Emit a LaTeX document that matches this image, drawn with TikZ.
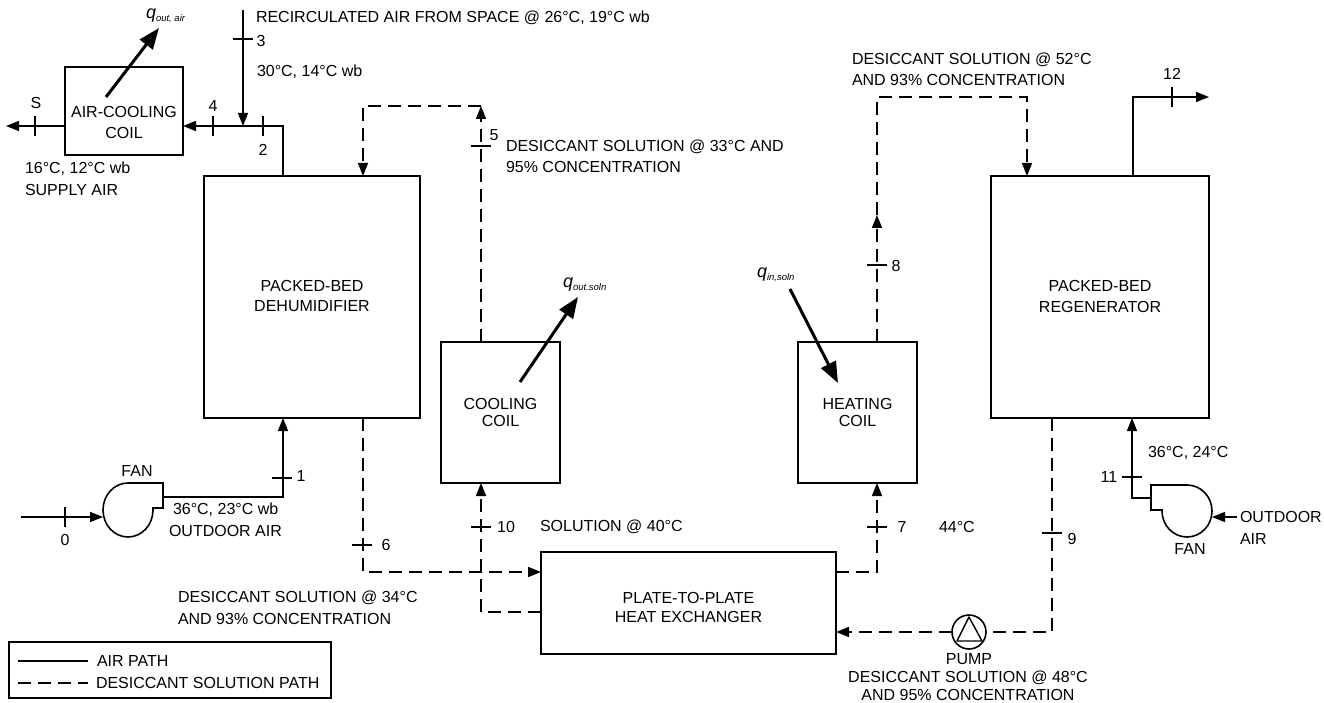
\documentclass[tikz,border=0pt]{standalone}
\usepackage{fontspec}
\setmainfont{Liberation Sans}
\usetikzlibrary{arrows.meta}
\newcommand{\qflow}[1]{{\itshape\fontsize{18}{18}\selectfont q\raisebox{-3pt}{\fontsize{9.5}{10}\selectfont #1}}}
\tikzset{
    unitbox/.style={draw, line width=1.6pt, inner sep=0pt, outer sep=0pt, align=center},
    lbl/.style={inner sep=0pt, outer sep=0pt, align=left, anchor=west},
    mid/.style={inner sep=0pt, outer sep=0pt, align=center},
    airline/.style={line width=1.6pt},
    solnline/.style={line width=1.6pt, dash pattern=on 13pt off 7pt},
    flow/.style={-{Triangle[length=13pt,width=10pt]}},
    heatflow/.style={line width=3pt, -{Triangle[length=21pt,width=16pt]}},
    ticks/.style={line width=1.4pt}
}
\begin{document}
\begin{tikzpicture}[x=1pt, y=-1pt, font=\fontsize{16}{21.5}\selectfont]
    \useasboundingbox (0,0) rectangle (1324,703);

    % equipment
    \node (aircoil) [unitbox, minimum width=118pt, minimum height=88pt] at (124,111) {};
    \node (dehum) [unitbox, minimum width=216pt, minimum height=242pt] at (312,297) {};
    \node (coolcoil) [unitbox, minimum width=119pt, minimum height=141pt] at (500.5,412.5) {};
    \node (heatcoil) [unitbox, minimum width=119pt, minimum height=141pt] at (857.5,412.5) {};
    \node (regen) [unitbox, minimum width=218pt, minimum height=242pt] at (1100,297) {};
    \node (hx) [unitbox, minimum width=295pt, minimum height=102pt] at (688.5,603) {};
    \node (pump) [draw, circle, line width=1.6pt, minimum size=34pt, inner sep=0pt, outer sep=0pt] at (969,632) {};

    % equipment names
    \node (coillbl) [mid] at (124,122.5) {AIR-COOLING\\COIL};
    \node (dehumlbl) [mid, font=\fontsize{16}{20}\selectfont] at (312,296) {PACKED-BED\\DEHUMIDIFIER};
    \node (coollbl) [mid, font=\fontsize{16}{17.5}\selectfont] at (500.5,412.5) {COOLING\\COIL};
    \node (heatlbl) [mid, font=\fontsize{16}{17.5}\selectfont] at (857.5,412.5) {HEATING\\COIL};
    \node (regenlbl) [mid, font=\fontsize{16}{20.5}\selectfont] at (1100,296.5) {PACKED-BED\\REGENERATOR};
    \node (hxlbl) [mid, font=\fontsize{16}{19}\selectfont] at (688.5,607.5) {PLATE-TO-PLATE\\HEAT EXCHANGER};

    % pump triangle
    \draw[line width=1.4pt, line join=round] (969,617) -- (982,641) -- (957,641) -- cycle;

    % fans
    \draw[line width=1.6pt] (128,483) arc (90:360:25pt and 27pt) -- (153,508) -- (163,508) -- (163,483) -- cycle;
    \draw[line width=1.6pt] (1187,485) arc (90:-180:25pt and 26pt) -- (1162,510) -- (1151,510) -- (1151,485) -- cycle;
    \coordinate (fanin) at (103,517);
    \coordinate (fanout) at (163,497);
    \coordinate (fanrin) at (1212,517);
    \coordinate (fanrout) at (1151,498);

    % air path
    \coordinate (start0) at (21,517);
    \coordinate (endS) at (6,126);
    \coordinate (top3) at (243,10);
    \coordinate (join3) at (243,126);
    \coordinate (corner2) at (283,126);
    \coordinate (corner1) at (283,497);
    \coordinate (corner11) at (1132,498);
    \coordinate (corner12) at (1133,97);
    \coordinate (end12) at (1209,97);
    \coordinate (startR) at (1237,517);
    \draw[airline, flow] (start0) -- (fanin);
    \draw[airline, flow] (fanout) -- (corner1) -- (dehum.south -| corner1);
    \draw[airline, flow] (dehum.north -| corner2) -- (corner2) -- (aircoil.east |- corner2);
    \draw[airline, flow] (top3) -- (join3);
    \draw[airline, flow] (aircoil.west |- endS) -- (endS);
    \draw[airline, flow] (regen.north -| corner12) -- (corner12) -- (end12);
    \draw[airline, flow] (startR) -- (fanrin);
    \draw[airline, flow] (fanrout) -- (corner11) -- (regen.south -| corner11);

    % solution path
    \coordinate (corner5) at (481,106);
    \coordinate (corner5b) at (363,106);
    \coordinate (corner6) at (363,572);
    \coordinate (corner10) at (481,612);
    \coordinate (corner7) at (877,572);
    \coordinate (mid8) at (877,215);
    \coordinate (corner8) at (877,97);
    \coordinate (corner8b) at (1027,97);
    \coordinate (corner9) at (1052,632);
    \draw[solnline, flow] (dehum.south -| corner6) -- (corner6) -- (hx.west |- corner6);
    \draw[solnline, flow] (hx.west |- corner10) -- (corner10) -- (coolcoil.south -| corner10);
    \draw[solnline, flow] (coolcoil.north -| corner5) -- (corner5);
    \draw[solnline, flow] (corner5) -- (corner5b) -- (dehum.north -| corner5b);
    \draw[solnline, flow] (hx.east |- corner7) -- (corner7) -- (heatcoil.south -| corner7);
    \draw[solnline, flow] (heatcoil.north -| mid8) -- (mid8);
    \draw[solnline, flow] (mid8) -- (corner8) -- (corner8b) -- (regen.north -| corner8b);
    \draw[solnline] (regen.south -| corner9) -- (corner9) -- (pump.east);
    \draw[solnline, flow] (pump.west) -- (hx.east |- pump.west);

    % heat arrows
    \coordinate (qairin) at (106,97);
    \coordinate (qairout) at (159,28);
    \coordinate (qcoolin) at (520,382);
    \coordinate (qcoolout) at (578,297);
    \coordinate (qheatin) at (790,289);
    \coordinate (qheatout) at (838,383);
    \draw[heatflow] (qairin) -- (qairout);
    \draw[heatflow] (qcoolin) -- (qcoolout);
    \draw[heatflow] (qheatin) -- (qheatout);

    % state point ticks
    \draw[ticks] (65,507) -- (65,527);
    \draw[ticks] (272,478) -- (292,478);
    \draw[ticks] (263,116) -- (263,136);
    \draw[ticks] (233,39) -- (253,39);
    \draw[ticks] (213,116) -- (213,136);
    \draw[ticks] (35,116) -- (35,136);
    \draw[ticks] (471,146) -- (491,146);
    \draw[ticks] (352,545) -- (372,545);
    \draw[ticks] (867,527) -- (887,527);
    \draw[ticks] (867,265) -- (887,265);
    \draw[ticks] (1042,533) -- (1062,533);
    \draw[ticks] (471,527) -- (491,527);
    \draw[ticks] (1122,477) -- (1142,477);
    \draw[ticks] (1172,87) -- (1172,107);

    % state point numbers
    \node (num0) [mid] at (65,540) {0};
    \node (num1) [mid] at (301,476) {1};
    \node (num2) [mid] at (263,150) {2};
    \node (num3) [mid] at (261,41) {3};
    \node (num4) [mid] at (213,106) {4};
    \node (numS) [mid] at (36,103) {S};
    \node (num5) [mid] at (494,135) {5};
    \node (num6) [mid] at (386,545) {6};
    \node (num7) [mid] at (902,527) {7};
    \node (num8) [mid] at (896,266) {8};
    \node (num9) [mid] at (1072,539) {9};
    \node (num10) [mid] at (506,527) {10};
    \node (num11) [mid] at (1109,477) {11};
    \node (num12) [mid] at (1172,74) {12};

    % conditions
    \node (recirc) [lbl] at (256,18) {RECIRCULATED AIR FROM SPACE @ 26°C, 19°C wb};
    \node (mixlbl) [lbl] at (257,72) {30°C, 14°C wb};
    \node (supply) [lbl] at (25,179) {16°C, 12°C wb\\SUPPLY AIR};
    \node (soln33) [lbl] at (506,156.5) {DESICCANT SOLUTION @ 33°C AND\\95\% CONCENTRATION};
    \node (soln52) [lbl] at (852,69.5) {DESICCANT SOLUTION @ 52°C\\AND 93\% CONCENTRATION};
    \node (soln34) [lbl] at (178,608) {DESICCANT SOLUTION @ 34°C\\AND 93\% CONCENTRATION};
    \node (soln48) [mid] at (968,686) {DESICCANT SOLUTION @ 48°C\\[-3pt]AND 95\% CONCENTRATION};
    \node (soln40) [lbl] at (540,527) {SOLUTION @ 40°C};
    \node (temp44) [lbl] at (939,527) {44°C};
    \node (outdoor) [lbl] at (169,520) {\hspace*{4pt}36°C, 23°C wb\\OUTDOOR AIR};
    \node (outdoorr) [lbl] at (1240,528) {OUTDOOR\\AIR};
    \node (temp36) [lbl] at (1148,453) {36°C, 24°C};
    \node (fanlbl) [mid] at (137,471) {FAN};
    \node (fanrlbl) [mid] at (1190,549) {FAN};
    \node (pumplbl) [mid] at (969,659) {PUMP};

    % heat flows
    \node (qair) [lbl] at (146,16) {\qflow{out, air}};
    \node (qcool) [lbl] at (563,285) {\qflow{out.soln}};
    \node (qheat) [lbl] at (757,275) {\qflow{in,soln}};

    % legend
    \node (legend) [unitbox, minimum width=322pt, minimum height=56pt] at (170,670) {};
    \coordinate (airl) at (18,661);
    \coordinate (airr) at (88,661);
    \coordinate (solnl) at (18,683);
    \coordinate (solnr) at (88,683);
    \draw[airline] (airl) -- (airr);
    \draw[solnline] (solnl) -- (solnr);
    \node (airtxt) [lbl] at (97,661) {AIR PATH};
    \node (solntxt) [lbl] at (96,683) {DESICCANT SOLUTION PATH};
\end{tikzpicture}
\end{document}
